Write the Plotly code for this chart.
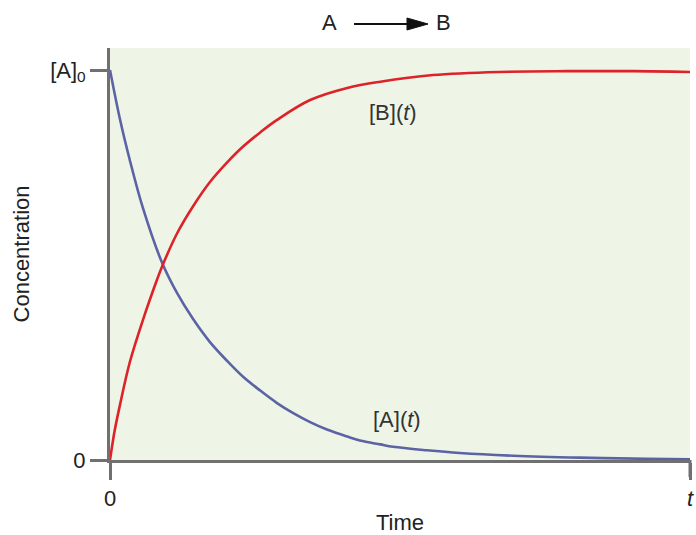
import plotly.graph_objects as go

# Time in units of the final time t (0 .. 1); concentrations in units of [A]0
time_a = [0.0, 0.017, 0.034, 0.057, 0.090, 0.116, 0.143, 0.172, 0.202, 0.229, 0.259,
          0.288, 0.316, 0.345, 0.374, 0.409, 0.431, 0.466, 0.488, 0.546, 0.603, 0.695,
          0.810, 0.926, 1.0]
conc_a = [1.0, 0.875, 0.770, 0.645, 0.505, 0.427, 0.362, 0.303, 0.254, 0.214, 0.178,
          0.146, 0.120, 0.097, 0.078, 0.060, 0.050, 0.040, 0.034, 0.025, 0.018, 0.011,
          0.006, 0.003, 0.002]

time_b = [0.0, 0.008, 0.017, 0.034, 0.057, 0.081, 0.090, 0.116, 0.143, 0.172, 0.202,
          0.229, 0.259, 0.288, 0.345, 0.409, 0.466, 0.557, 0.672, 0.788, 0.902, 1.0]
conc_b = [0.0, 0.075, 0.140, 0.250, 0.360, 0.462, 0.497, 0.582, 0.650, 0.712, 0.763,
          0.803, 0.840, 0.872, 0.923, 0.954, 0.970, 0.987, 0.995, 0.997, 0.997, 0.995]

x_tick_vals = [0, 1]
x_tick_text = ["0", "<i>t</i>"]
y_tick_vals = [0, 1]
y_tick_text = ["0", "[A]<sub>0</sub>"]

FONT = "Liberation Sans, Arial, sans-serif"
AXIS_COLOR = "#707070"
TEXT_COLOR = "#222222"
FS = 22

W, H = 696, 535
ML, MR, MT, MB = 110, 6, 48, 75
TICKLEN = 17

fig = go.Figure()
fig.add_trace(go.Scatter(x=time_a, y=conc_a, mode="lines",
                         line=dict(color="#5b63a6", width=2.6, shape="spline", smoothing=1.0),
                         hoverinfo="skip", showlegend=False))
fig.add_trace(go.Scatter(x=time_b, y=conc_b, mode="lines",
                         line=dict(color="#dd2229", width=2.6, shape="spline", smoothing=1.0),
                         hoverinfo="skip", showlegend=False))

fig.update_layout(
    width=W, height=H,
    margin=dict(l=ML, r=MR, t=MT, b=MB, autoexpand=False),
    paper_bgcolor="white",
    plot_bgcolor="#eef5e7",
    font=dict(family=FONT, size=FS, color=TEXT_COLOR),
    showlegend=False,
    xaxis=dict(range=[0, 1], tickvals=x_tick_vals, ticktext=x_tick_text,
               showgrid=False, zeroline=False, showline=True, linecolor=AXIS_COLOR,
               linewidth=3, ticks="outside", ticklen=TICKLEN, tickwidth=3, tickcolor=AXIS_COLOR,
               tickfont=dict(size=FS, color=TEXT_COLOR), fixedrange=True, automargin=False,
               title=dict(text="Time", font=dict(size=FS, color=TEXT_COLOR), standoff=8)),
    yaxis=dict(range=[0, 1.0564], tickvals=y_tick_vals, ticktext=y_tick_text,
               showgrid=False, zeroline=False, showline=True, linecolor=AXIS_COLOR,
               linewidth=3, ticks="outside", ticklen=TICKLEN, tickwidth=3, tickcolor=AXIS_COLOR,
               tickfont=dict(size=FS, color=TEXT_COLOR), fixedrange=True, automargin=False,
               title=dict(text="Concentration", font=dict(size=FS, color=TEXT_COLOR), standoff=15)),
)

# Tick mark at the right end of the time axis (paper coords, so it is not clipped)
fig.add_shape(type="line", xref="paper", yref="paper", x0=1, x1=1,
              y0=0, y1=-TICKLEN / (H - MT - MB), line=dict(color=AXIS_COLOR, width=3),
              layer="above")

# Curve labels
fig.add_annotation(x=0.488, y=0.892, xref="x", yref="y", text="[B](<i>t</i>)",
                   showarrow=False, font=dict(size=FS, color="#333333"))
fig.add_annotation(x=0.495, y=0.103, xref="x", yref="y", text="[A](<i>t</i>)",
                   showarrow=False, font=dict(size=FS, color="#333333"))

# Reaction scheme "A -> B" above the plot (pixel positions converted to paper units)
def px(x):
    return (x - ML) / (W - ML - MR)

def py(y):
    return (H - MB - y) / (H - MT - MB)

fig.add_annotation(x=px(329), y=py(23), xref="paper", yref="paper", yanchor="middle",
                   text="A", showarrow=False, font=dict(size=FS, color=TEXT_COLOR))
fig.add_annotation(x=px(443), y=py(23), xref="paper", yref="paper", yanchor="middle",
                   text="B", showarrow=False, font=dict(size=FS, color=TEXT_COLOR))
fig.add_shape(type="line", xref="paper", yref="paper",
              x0=px(354), x1=px(412), y0=py(24), y1=py(24),
              line=dict(color="#111111", width=2.2))
fig.add_shape(type="path", xref="paper", yref="paper",
              path=f"M {px(407)},{py(18)} L {px(428)},{py(24)} L {px(407)},{py(30)} Z",
              fillcolor="#111111", line=dict(color="#111111", width=1))

fig.write_html("out.html", config={"displayModeBar": False},
               post_script="document.body.style.margin='0';document.body.style.overflow='hidden';")
